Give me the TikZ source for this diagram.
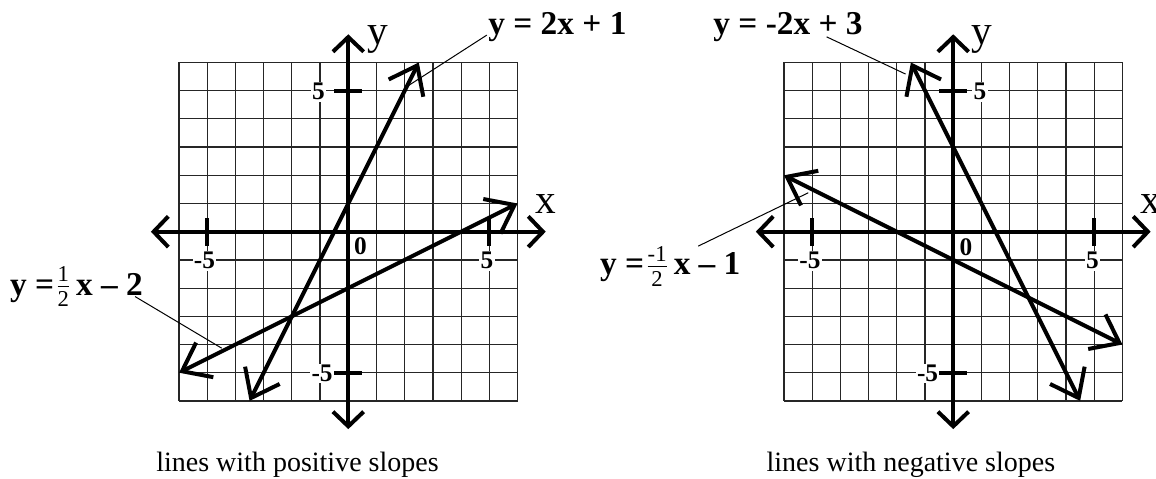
\documentclass[tikz,border=0pt]{standalone}
\usepackage{amsmath}
\usepackage{fontspec}
\setmainfont{Liberation Serif}
\usetikzlibrary{arrows.meta}
\newcommand{\tinyfrac}[2]{$\genfrac{}{}{0.7pt}{}{\mbox{\fontsize{17}{17}\selectfont\mdseries #1}}{\mbox{\fontsize{17}{17}\selectfont\mdseries #2}}$}
\begin{document}
\begin{tikzpicture}[x=21.15pt,y=21.15pt,
  gridline/.style={line width=0.9pt, black!85},
  axisline/.style={line width=3pt, {Straight Barb[length=11pt,width=23pt]}-{Straight Barb[length=11pt,width=23pt]}},
  slopeline/.style={line width=3pt, {Straight Barb[length=19pt,width=29pt]}-{Straight Barb[length=19pt,width=29pt]}},
  tickmark/.style={line width=3pt},
  ticklabel/.style={font=\fontsize{19}{19}\selectfont\bfseries, fill=white, inner sep=1pt},
  axislabel/.style={font=\fontsize{31}{31}\selectfont, inner sep=0pt, anchor=base},
  eqlabel/.style={font=\fontsize{25}{25}\selectfont\bfseries, inner sep=0pt, anchor=base west},
  leader/.style={line width=0.75pt},
  caption/.style={font=\fontsize{21}{21}\selectfont, inner sep=0pt, anchor=base},
]
\useasboundingbox (-12.35,-8.734) rectangle (28.64,8.216);

% ---------------- left panel ----------------
\begin{scope}
  \draw[gridline, step=1] (-6,-6) grid (6,6);
  \node[ticklabel] (Ltxm) at (-5.1,-1.03) {-5};
  \node[ticklabel] (Ltxp) at (4.92,-1.03) {5};
  \node[ticklabel] (Ltyp) at (-1.06,4.96) {5};
  \node[ticklabel] (Ltym) at (-0.93,-5.02) {-5};
  \node[ticklabel,fill=none] (Lzero) at (0.43,-0.53) {0};
  \coordinate (Lxl) at (-7,0); \coordinate (Lxr) at (7,0);
  \coordinate (Lyb) at (0,-7); \coordinate (Lyt) at (0,7);
  \draw[axisline] (Lxl) -- (Lxr);
  \draw[axisline] (Lyb) -- (Lyt);
  \draw[tickmark] (-5,-0.5) -- (-5,0.5);
  \draw[tickmark] (5,-0.5) -- (5,0.5);
  \draw[tickmark] (-0.5,5) -- (0.5,5);
  \draw[tickmark] (-0.5,-5) -- (0.5,-5);
  \node[axislabel] (Lylab) at (1.04,6.65) {y};
  \node[axislabel] (Lxlab) at (7.0,0.65) {x};
  \coordinate (LA1) at (-3.5,-6); \coordinate (LA2) at (2.5,6);
  \coordinate (LB1) at (-6,-5); \coordinate (LB2) at (6,1);
  \draw[slopeline] (LA1) -- (LA2);
  \draw[slopeline] (LB1) -- (LB2);
  \node[eqlabel] (eqA) at (4.96,7.0) {y = 2x + 1};
  \coordinate (eqAs) at (4.91,6.97); \coordinate (eqAe) at (2.07,5.14);
  \draw[leader] (eqAs) -- (eqAe);
  \node[eqlabel] (eqB) at (-12.0,-2.245) {y =\kern1.5pt\tinyfrac{1}{2}\,x – 2};
  \coordinate (eqBs) at (-7.56,-2.30); \coordinate (eqBe) at (-4.49,-4.13);
  \draw[leader] (eqBs) -- (eqBe);
  \node[caption] (capL) at (-1.80,-8.50) {lines with positive slopes};
\end{scope}

% ---------------- right panel ----------------
\begin{scope}[shift={(21.45,0)}]
  \draw[gridline, step=1] (-6,-6) grid (6,6);
  \node[ticklabel] (Rtxm) at (-5.08,-1.03) {-5};
  \node[ticklabel] (Rtxp) at (4.94,-1.03) {5};
  \node[ticklabel] (Rtyp) at (0.95,4.96) {5};
  \node[ticklabel] (Rtym) at (-0.91,-5.02) {-5};
  \node[ticklabel,fill=none] (Rzero) at (0.45,-0.55) {0};
  \coordinate (Rxl) at (-7,0); \coordinate (Rxr) at (7,0);
  \coordinate (Ryb) at (0,-7); \coordinate (Ryt) at (0,7);
  \draw[axisline] (Rxl) -- (Rxr);
  \draw[axisline] (Ryb) -- (Ryt);
  \draw[tickmark] (-5,-0.5) -- (-5,0.5);
  \draw[tickmark] (5,-0.5) -- (5,0.5);
  \draw[tickmark] (-0.5,5) -- (0.5,5);
  \draw[tickmark] (-0.5,-5) -- (0.5,-5);
  \node[axislabel] (Rylab) at (1.0,6.65) {y};
  \node[axislabel] (Rxlab) at (7.0,0.65) {x};
  \coordinate (RC1) at (-1.5,6); \coordinate (RC2) at (4.5,-6);
  \coordinate (RD1) at (-6,2); \coordinate (RD2) at (6,-4);
  \draw[slopeline] (RC1) -- (RC2);
  \draw[slopeline] (RD1) -- (RD2);
  \node[eqlabel] (eqC) at (-8.51,7.0) {y = -2x + 3};
  \coordinate (eqCs) at (-4.49,6.91); \coordinate (eqCe) at (-1.69,5.59);
  \draw[leader] (eqCs) -- (eqCe);
  \node[eqlabel] (eqD) at (-12.53,-1.535) {y =\kern1.5pt\tinyfrac{-1}{2}\,x – 1};
  \coordinate (eqDs) at (-9.04,-0.51); \coordinate (eqDe) at (-5.14,1.38);
  \draw[leader] (eqDs) -- (eqDe);
  \node[caption] (capR) at (-1.5,-8.50) {lines with negative slopes};
\end{scope}
\end{tikzpicture}
\end{document}
